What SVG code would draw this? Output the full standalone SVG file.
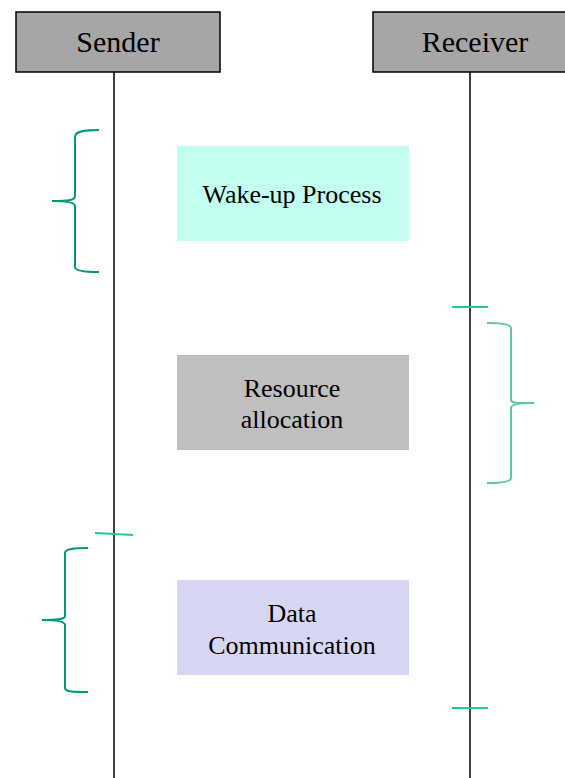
<svg xmlns="http://www.w3.org/2000/svg" width="565" height="778" viewBox="0 0 565 778">
<style>
.hdr{fill:#a6a6a6;stroke:#000;stroke-width:1.5}
.life{stroke:#000;stroke-width:1.5;fill:none}
.t{font-family:"Liberation Serif","Times New Roman",serif;fill:#000;text-anchor:middle}
.h{font-size:30px}
.b{font-size:26px}
.br{fill:none;stroke:#009973;stroke-width:2}
.br2{fill:none;stroke:#5cc99a;stroke-width:2}
.tick{stroke:#1fcc99;stroke-width:2}
</style>
<rect width="565" height="778" fill="#fff"/>
<g id="connectors">
<line class="life" x1="114" y1="72" x2="114" y2="778"/>
<line class="life" x1="470" y1="72" x2="470" y2="778"/>
<line class="tick" x1="452" y1="307" x2="488" y2="307"/>
<line class="tick" x1="95" y1="533" x2="133" y2="535"/>
<line class="tick" x1="452" y1="708" x2="488" y2="708"/>
</g>
<g id="sender"><rect class="hdr" x="16" y="12" width="204" height="60"/><text class="t h" x="118" y="52">Sender</text></g>
<g id="receiver"><rect class="hdr" x="373" y="12" width="200" height="60"/><text class="t h" x="475" y="52">Receiver</text></g>
<g id="wakeup"><rect x="177" y="146" width="232" height="95" fill="#c2fff0"/><text class="t b" x="292" y="203">Wake-up Process</text></g>
<g id="resource"><rect x="177" y="355" width="232" height="95" fill="#bfbfbf"/><text class="t b" x="292" y="397">Resource</text><text class="t b" x="292" y="428">allocation</text></g>
<g id="data"><rect x="177" y="580" width="232" height="95" fill="#d7d7f4"/><text class="t b" x="292" y="622">Data</text><text class="t b" x="292" y="654">Communication</text></g>
<g id="brace1"><path class="br" d="M99,130 C85,130 75,131 75,137 L75,196 C75,200 70,201 52,201 C70,201 75,203 75,206 L75,267 C75,271 85,272 99,272"/></g>
<g id="brace2"><path class="br2" d="M487,323 C501,323 511,324 511,328 L511,400 C511,403 516,403 534,403 C516,403 511,405 511,408 L511,478 C511,482 501,483 487,483"/></g>
<g id="brace3"><path class="br" d="M88,548 C74,548 65,549 65,553 L65,616 C65,619 60,620 42,620 C60,620 65,622 65,625 L65,688 C65,692 74,692 88,692"/></g>
</svg>
